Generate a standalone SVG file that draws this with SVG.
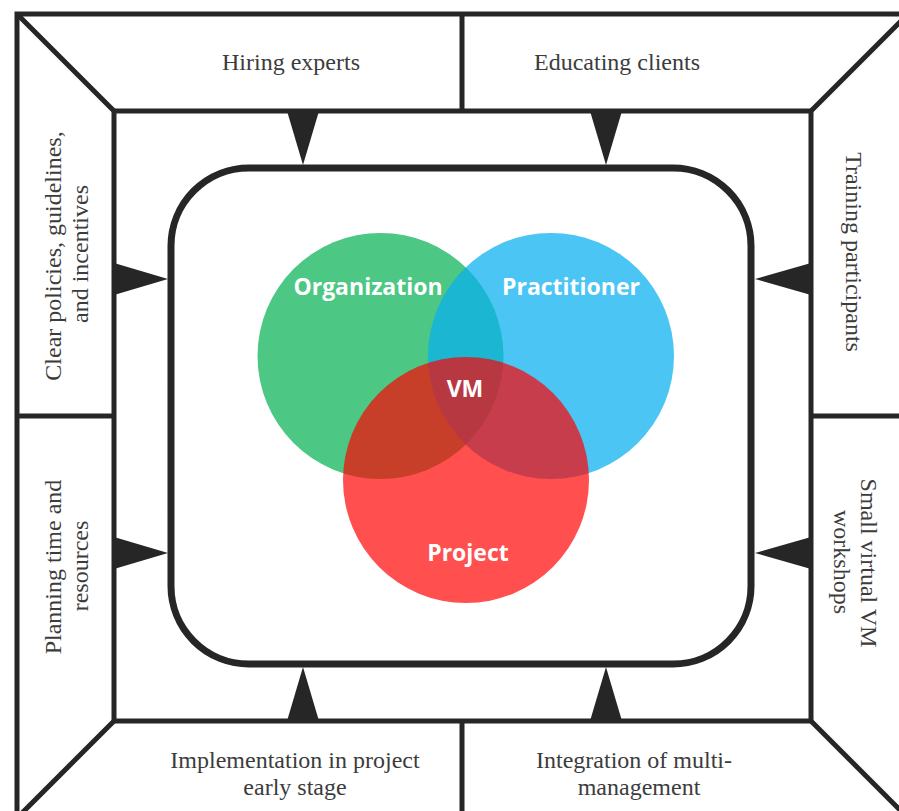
<svg xmlns="http://www.w3.org/2000/svg" width="899" height="811" viewBox="0 0 899 811">
  <style>
    .frame { fill: none; stroke: #262626; stroke-width: 5; stroke-linejoin: miter; }
    .hub { fill: #ffffff; stroke: #262626; stroke-width: 7; }
    .pointer { fill: #262626; stroke: none; }
    .lbl { font-family: "Liberation Serif", "Times New Roman", serif; font-size: 24px; fill: #3c3c3c; text-anchor: middle; }
    .vlbl { font-family: "Open Sans", "Noto Sans", "Liberation Sans", sans-serif; font-weight: 700; font-size: 23px; fill: #ffffff; text-anchor: middle; }
  </style>

  <rect x="0" y="0" width="899" height="811" fill="#ffffff"/>

  <!-- Outer frame with bevelled corners -->
  <g id="frame">
    <rect class="frame" x="17" y="14" width="891" height="804"/>
    <rect class="frame" x="114" y="111" width="697" height="610"/>
    <path class="frame" d="M17 14 L114 111 M908 14 L811 111 M17 818 L114 721 M908 818 L811 721"/>
    <path class="frame" d="M462 14 V111 M462 721 V818 M17 416 H114 M811 416 H908"/>
  </g>

  <!-- Top panels -->
  <g id="panel-hiring">
    <text class="lbl" x="291" y="70">Hiring experts</text>
  </g>
  <g id="panel-educating">
    <text class="lbl" x="617" y="70">Educating clients</text>
  </g>

  <!-- Left panels -->
  <g id="panel-policies">
    <text class="lbl" transform="translate(61,256) rotate(-90)">Clear policies, guidelines,</text>
    <text class="lbl" transform="translate(88,254) rotate(-90)">and incentives</text>
  </g>
  <g id="panel-planning">
    <text class="lbl" transform="translate(61,567) rotate(-90)">Planning time and</text>
    <text class="lbl" transform="translate(88,566) rotate(-90)">resources</text>
  </g>

  <!-- Right panels -->
  <g id="panel-training">
    <text class="lbl" transform="translate(846,252) rotate(90)">Training participants</text>
  </g>
  <g id="panel-workshops">
    <text class="lbl" transform="translate(861,563) rotate(90)">Small virtual VM</text>
    <text class="lbl" transform="translate(834,562) rotate(90)">workshops</text>
  </g>

  <!-- Bottom panels -->
  <g id="panel-implementation">
    <text class="lbl" x="295" y="768">Implementation in project</text>
    <text class="lbl" x="295" y="795">early stage</text>
  </g>
  <g id="panel-integration">
    <text class="lbl" x="634" y="768">Integration of multi-</text>
    <text class="lbl" x="639" y="795">management</text>
  </g>

  <!-- Central hub -->
  <g id="hub">
    <rect class="hub" x="171" y="168" width="580" height="496" rx="78" ry="78"/>
  </g>

  <!-- Pointers from each panel into the hub -->
  <g id="connectors">
    <polygon class="pointer" points="287,111 319,111 303,165"/>
    <polygon class="pointer" points="590,111 622,111 606,165"/>
    <polygon class="pointer" points="287,721 319,721 303,667"/>
    <polygon class="pointer" points="590,721 622,721 606,667"/>
    <polygon class="pointer" points="114,263 114,295 168,279"/>
    <polygon class="pointer" points="114,537 114,569 168,553"/>
    <polygon class="pointer" points="811,263 811,295 755,279"/>
    <polygon class="pointer" points="811,537 811,569 755,553"/>
  </g>

  <!-- Venn diagram -->
  <g id="venn-organization">
    <circle cx="380.5" cy="356" r="123" fill="#4cc784"/>
  </g>
  <g id="venn-practitioner">
    <circle cx="551" cy="356" r="123" fill="#08afee" fill-opacity="0.73"/>
  </g>
  <g id="venn-project">
    <circle cx="466" cy="480" r="123" fill="#ff0000" fill-opacity="0.69"/>
  </g>
  <g id="venn-labels">
    <text class="vlbl" x="368" y="295">Organization</text>
    <text class="vlbl" x="571" y="295">Practitioner</text>
    <text class="vlbl" x="465" y="397">VM</text>
    <text class="vlbl" x="468" y="561">Project</text>
  </g>
</svg>
